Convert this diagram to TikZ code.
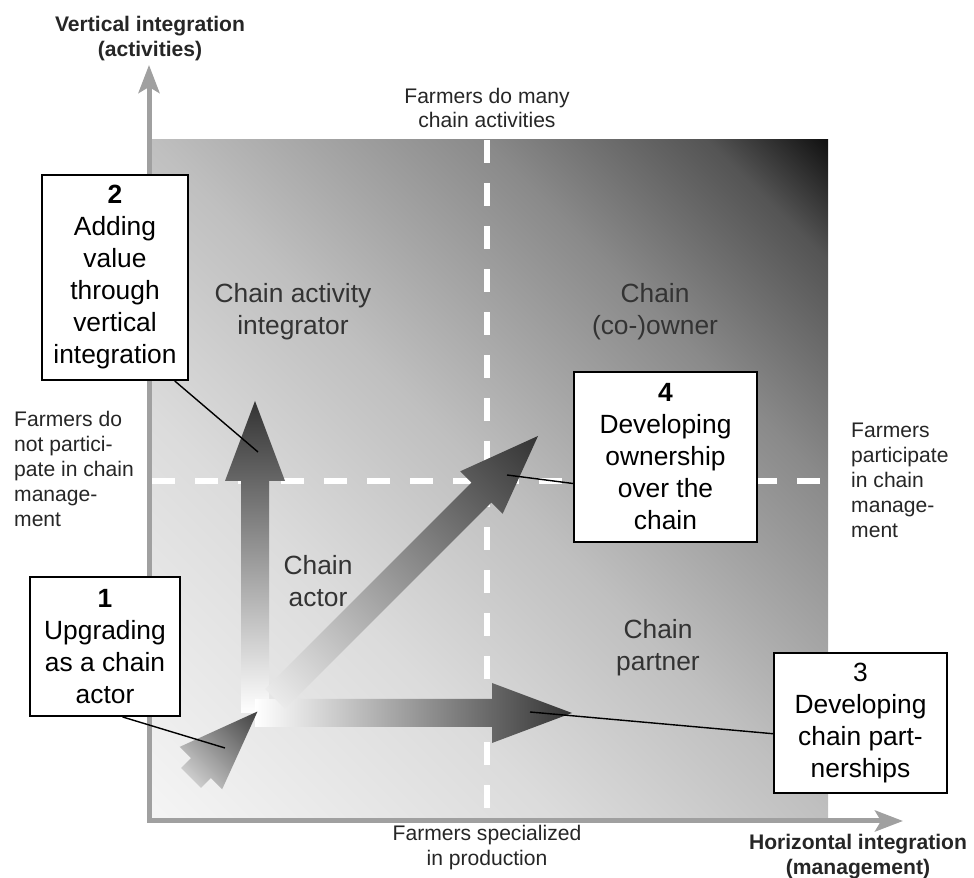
\documentclass[tikz,border=0pt]{standalone}
\usepackage{fontspec}
\setmainfont{Liberation Sans}
\usetikzlibrary{arrows.meta}

\definecolor{axisgray}{RGB}{160,160,160}
\definecolor{fieldA}{gray}{0.96}
\definecolor{fieldB}{gray}{0.86}
\definecolor{fieldC}{gray}{0.75}
\definecolor{fieldD}{gray}{0.54}
\definecolor{fieldE}{gray}{0.33}
\definecolor{fieldF}{gray}{0.06}
\pgfdeclarehorizontalshading{field}{100bp}{color(0bp)=(fieldA); color(25bp)=(fieldA);
  color(40bp)=(fieldB); color(50bp)=(fieldC); color(62.25bp)=(fieldD);
  color(70.5bp)=(fieldE); color(75bp)=(fieldF); color(100bp)=(fieldF)}

\tikzset{
stepbox/.style={
	draw=black, line width=1.1pt, fill=white, align=center, inner sep=0pt,
	font=\fontsize{15}{18.2}\selectfont},
zone/.style={align=center, text=black!80, font=\fontsize{15}{18.2}\selectfont},
note/.style={align=center, text=black!85, font=\fontsize{12}{14.2}\selectfont},
axislabel/.style={align=center, text=black!85, font=\fontsize{12}{14.2}\selectfont\bfseries},
axisline/.style={draw=axisgray, line width=0.1cm,
	{Stealth[length=0.56cm, width=0.42cm, inset=0.12cm]}-{Stealth[length=0.56cm, width=0.42cm, inset=0.12cm]}},
divider/.style={draw=white, line width=0.13cm, dash pattern=on 0.46cm off 0.4cm},
pointer/.style={draw=black, line width=0.8pt}
}
% shaded arrow: tail, angle, length, tail colour, tip colour
\newcommand{\gradarrow}[5]{%
	\shade[left color=#4, right color=#5, transform canvas={shift={#1}, rotate=#2}]
	(0,-0.28) -- ({#3-1.6},-0.28) -- ({#3-1.6},-0.6) -- (#3,0) -- ({#3-1.6},0.6)
	-- ({#3-1.6},0.28) -- (0,0.28) -- cycle;}

\begin{document}
\begin{tikzpicture}
	\useasboundingbox (0,0) rectangle (19.48,17.56);
	% field
	\begin{scope}
		\clip (3.04,1.2) rectangle (16.56,14.76);
		\shade[shading=field, transform canvas={shift={(9.8,7.98)}, rotate=45}]
		(-9.6,-9.6) rectangle (9.6,9.6);
	\end{scope}
	\draw[divider] (9.74,14.76) -- (9.74,1.2);
	\draw[divider] (3.04,7.94) -- (16.56,7.94);
	\draw[axisline] (2.98,16.26) |- (18.06,1.14);

	% arrows
	\gradarrow{(5.1,3.3)}{90}{6.24}{white}{black!80}
	\gradarrow{(5.1,3.3)}{0}{6.34}{white}{black!80}
	\gradarrow{(5.5,3.58)}{45}{7.44}{black!8}{black!80}
	\gradarrow{(3.82,2.0)}{45}{1.88}{black!20}{black!75}
	\coordinate (p2) at (5.16,8.52);
	\coordinate (p1) at (4.5,2.6);
	\coordinate (p4) at (10.14,8.06);
	\coordinate (p3) at (10.6,3.32);

	% zones
	\node[zone] (actint) at (5.86,11.32) {Chain activity\\integrator};
	\node[zone] (owner) at (13.1,11.32) {Chain\\(co-)owner};
	\node[zone] (actor) at (6.36,5.94) {Chain\\actor};
	\node[zone] (partner) at (13.16,4.6) {Chain\\partner};

	% steps
	\node[stepbox, minimum width=2.92cm, minimum height=4.1cm] (b2) at (2.3,12.01)
	{\textbf{2}\\Adding\\value\\through\\vertical\\integration};
	\node[stepbox, minimum width=3cm, minimum height=2.78cm] (b1) at (2.1,4.63)
	{\textbf{1}\\Upgrading\\as a chain\\actor};
	\node[stepbox, minimum width=3.66cm, minimum height=3.4cm] (b4) at (13.31,8.42)
	{\textbf{4}\\Developing\\ownership\\over the\\chain};
	\node[stepbox, minimum width=3.46cm, minimum height=2.8cm] (b3) at (17.21,3.1)
	{3\\Developing\\chain part-\\nerships};
	\draw[pointer] (b2.-60) -- (p2);
	\draw[pointer] (b1.-76) -- (p1);
	\draw[pointer] (b4.196) -- (p4);
	\draw[pointer] (b3.187) -- (p3);

	% axis texts
	\node[axislabel] (ylab) at (3.0,16.79) {Vertical integration\\(activities)};
	\node[axislabel] (xlab) at (17.16,0.42) {Horizontal integration\\(management)};
	\node[note] (many) at (9.74,15.4) {Farmers do many\\chain activities};
	\node[note] (spec) at (9.74,0.6) {Farmers specialized\\in production};
	\node[note, anchor=west, align=left] (notp) at (0.16,8.18)
	{Farmers do\\not partici-\\pate in chain\\manage-\\ment};
	\node[note, anchor=west, align=left] (part) at (16.9,7.96)
	{Farmers\\participate\\in chain\\manage-\\ment};
\end{tikzpicture}
\end{document}
